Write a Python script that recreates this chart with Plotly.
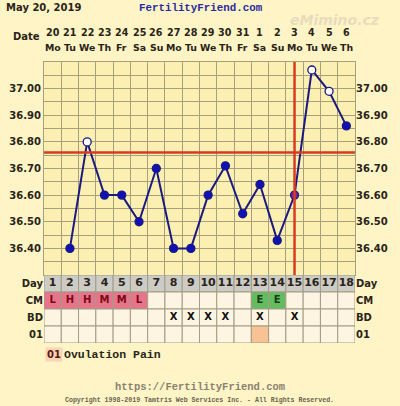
import plotly.graph_objects as go

W, H = 400, 406

# ---------------- data ----------------
days = list(range(1, 19))
dates = ["20", "21", "22", "23", "24", "25", "26", "27", "28", "29", "30", "31",
         "1", "2", "3", "4", "5", "6"]
dows = ["Mo", "Tu", "We", "Th", "Fr", "Sa", "Su", "Mo", "Tu", "We", "Th", "Fr",
        "Sa", "Su", "Mo", "Tu", "We", "Th"]
temps = [None, 36.40, 36.80, 36.60, 36.60, 36.50, 36.70, 36.40, 36.40, 36.60,
         36.71, 36.53, 36.64, 36.43, 36.60, 37.07, 36.99, 36.86]
open_points = [False, False, True, False, False, False, False, False, False, False,
               False, False, False, False, False, True, True, False]
coverline = 36.76
ovulation_day = 15
temp_ticks = [36.40, 36.50, 36.60, 36.70, 36.80, 36.90, 37.00]
cm = ["L", "H", "H", "M", "M", "L", "", "", "", "", "", "", "E", "E", "", "", "", ""]
bd = ["", "", "", "", "", "", "", "X", "X", "X", "X", "", "X", "", "X", "", "", ""]
opk = ["", "", "", "", "", "", "", "", "", "", "", "", "01", "", "", "", "", ""]
row_labels = ["Day", "CM", "BD", "01"]

# ---------------- style ----------------
BG = "#fef4c6"
PLOT_BG = "#fcefb2"
GRID = "#a8a07c"
CELL = "#fdf5e2"
DAYCELL = "#cdcbc6"
PINK = "#e8748c"
GREEN = "#63bd60"
PEACH = "#f8c294"
NAVY = "#1a1a80"
DOT = "#1010b4"
RED = "#d83a22"
TXT = "#2a2418"
SANS = "DejaVu Sans"
MONO = "Liberation Mono"


def py(px):
    return 1 - px / H


def px_x(px):
    return px / W


fig = go.Figure()

# temperature line
mcolors = []
for i, o in enumerate(open_points):
    if o:
        mcolors.append("white")
    elif days[i] == ovulation_day:
        mcolors.append("#7a2288")
    else:
        mcolors.append(DOT)
fig.add_trace(go.Scatter(
    x=days, y=temps, mode="lines+markers", connectgaps=True,
    line=dict(color=NAVY, width=2),
    marker=dict(size=8, color=mcolors, line=dict(color=NAVY, width=1.3)),
    xaxis="x", yaxis="y", hoverinfo="skip", showlegend=False))

# right-side ticks helper
fig.add_trace(go.Scatter(x=days, y=temps, mode="markers", marker=dict(opacity=0),
                         xaxis="x", yaxis="y3", hoverinfo="skip", showlegend=False))

# coverline + ovulation line
fig.add_trace(go.Scatter(x=[0.5, 18.5], y=[coverline, coverline], mode="lines",
                         line=dict(color=RED, width=2.5), xaxis="x", yaxis="y",
                         hoverinfo="skip", showlegend=False))
fig.add_trace(go.Scatter(x=[ovulation_day, ovulation_day], y=[36.30, 37.10], mode="lines",
                         line=dict(color=RED, width=2.5), xaxis="x", yaxis="y",
                         hoverinfo="skip", showlegend=False))

# ---------------- table ----------------
shapes = []
for i, d in enumerate(days):
    # rows: Day (3), CM (2), BD (1), 01 (0)
    fills = {
        3: DAYCELL,
        2: (GREEN if cm[i] == "E" else PINK) if cm[i] else CELL,
        1: CELL,
        0: PEACH if opk[i] else CELL,
    }
    for r, f in fills.items():
        shapes.append(dict(type="rect", xref="x2", yref="y2", x0=d - 0.5, x1=d + 0.5,
                           y0=r, y1=r + 1, fillcolor=f, layer="below",
                           line=dict(color="#a29c84", width=1)))

fig.add_trace(go.Scatter(x=days, y=[3.5] * 18, text=[str(d) for d in days], mode="text",
                         textfont=dict(family=SANS, size=11, color=TXT, weight="bold"),
                         xaxis="x2", yaxis="y2", hoverinfo="skip", showlegend=False))
cm_colors = ["#1e3a18" if c == "E" else "#7a0a14" for c in cm]
fig.add_trace(go.Scatter(x=days, y=[2.5] * 18, text=cm, mode="text",
                         textfont=dict(family=SANS, size=10, color=cm_colors, weight="bold"),
                         xaxis="x2", yaxis="y2", hoverinfo="skip", showlegend=False))
fig.add_trace(go.Scatter(x=days, y=[1.5] * 18, text=bd, mode="text",
                         textfont=dict(family=SANS, size=10, color="#111111", weight="bold"),
                         xaxis="x2", yaxis="y2", hoverinfo="skip", showlegend=False))
fig.add_trace(go.Scatter(x=days, y=[0.5] * 18, mode="markers", marker=dict(opacity=0),
                         xaxis="x2", yaxis="y4", hoverinfo="skip", showlegend=False))

# ---------------- header / footer annotations ----------------
ann = []
# watermark first (behind the dates)
ann.append(dict(x=px_x(335), y=py(20), xref="paper", yref="paper", text="eMimino.cz",
                showarrow=False, xanchor="center", yanchor="middle",
                font=dict(family=SANS, size=14, color="#e8dcbc", weight="bold", style="italic")))
for i, d in enumerate(days):
    ann.append(dict(x=d, y=py(32), xref="x", yref="paper", text=dates[i], showarrow=False,
                    font=dict(family=SANS, size=9.6, color=TXT, weight="bold"),
                    xanchor="center", yanchor="middle"))
    ann.append(dict(x=d, y=py(47), xref="x", yref="paper", text=dows[i], showarrow=False,
                    font=dict(family=SANS, size=9.4, color=TXT, weight="bold"),
                    xanchor="center", yanchor="middle"))
ann.append(dict(x=px_x(42), y=py(36), xref="paper", yref="paper", text="Date",
                showarrow=False, xanchor="right", yanchor="middle",
                font=dict(family=SANS, size=10, color=TXT, weight="bold")))
ann.append(dict(x=px_x(4), y=py(8), xref="paper", yref="paper", text="May 20, 2019",
                showarrow=False, xanchor="left", yanchor="middle",
                font=dict(family=SANS, size=10, color=TXT, weight="bold")))
ann.append(dict(x=px_x(201), y=py(8), xref="paper", yref="paper", text="FertilityFriend.com",
                showarrow=False, xanchor="center", yanchor="middle",
                font=dict(family=MONO, size=10.8, color="#2a2aa0", weight="bold")))
ann.append(dict(x=px_x(45), y=py(354), xref="paper", yref="paper", text="01",
                showarrow=False, xanchor="left", yanchor="middle", bgcolor="#f8d4b8",
                borderpad=1,
                font=dict(family=SANS, size=10, color="#5a1a0a", weight="bold")))
ann.append(dict(x=px_x(62), y=py(354), xref="paper", yref="paper", text="Ovulation Pain",
                showarrow=False, xanchor="left", yanchor="middle",
                font=dict(family=MONO, size=11.5, color=TXT, weight="bold")))
ann.append(dict(x=px_x(200), y=py(387), xref="paper", yref="paper",
                text="https://FertilityFriend.com", showarrow=False,
                xanchor="center", yanchor="middle",
                font=dict(family=MONO, size=10.5, color="#8a8270", weight="bold")))
ann.append(dict(x=px_x(199), y=py(400), xref="paper", yref="paper",
                text="Copyright 1998-2019 Tamtris Web Services Inc. - All Rights Reserved.",
                showarrow=False, xanchor="center", yanchor="middle",
                font=dict(family=MONO, size=6.6, color="#6a6250", weight="bold")))

tick_text = ["%.2f" % v for v in temp_ticks]
tickfont = dict(family=SANS, size=10, color=TXT, weight="bold")
x_dom = [px_x(44), px_x(355)]

fig.update_layout(
    width=W, height=H, margin=dict(l=0, r=0, t=0, b=0),
    paper_bgcolor=BG, plot_bgcolor=PLOT_BG, showlegend=False,
    shapes=shapes, annotations=ann,
    xaxis=dict(domain=x_dom, anchor="y", range=[0.5, 18.5],
               tickvals=[d - 0.5 for d in days] + [18.5], showticklabels=False, ticks="",
               showgrid=True, gridcolor=GRID, gridwidth=1, zeroline=False,
               showline=True, mirror=True, linecolor=GRID, linewidth=1),
    yaxis=dict(domain=[py(275), py(62)], anchor="x", range=[36.30, 37.10],
               tickvals=temp_ticks, ticktext=tick_text, tickfont=tickfont, ticks="",
               showgrid=True, gridcolor=GRID, gridwidth=1, zeroline=False,
               minor=dict(dtick=0.05, tick0=36.30, showgrid=True, gridcolor=GRID, gridwidth=1),
               showline=True, mirror=True, linecolor=GRID, linewidth=1),
    yaxis3=dict(overlaying="y", side="right", anchor="x", range=[36.30, 37.10],
                tickvals=temp_ticks, ticktext=tick_text, tickfont=tickfont, ticks="",
                showgrid=False, zeroline=False, showline=False),
    xaxis2=dict(domain=x_dom, anchor="y2", range=[0.5, 18.5], matches="x",
                showticklabels=False, showgrid=False, zeroline=False, ticks=""),
    yaxis2=dict(domain=[py(343), py(275)], anchor="x2", range=[0, 4],
                tickvals=[3.5, 2.5, 1.5, 0.5], ticktext=row_labels, tickfont=tickfont,
                ticks="", showgrid=False, zeroline=False),
    yaxis4=dict(overlaying="y2", side="right", anchor="x2", range=[0, 4],
                tickvals=[3.5, 2.5, 1.5, 0.5], ticktext=row_labels, tickfont=tickfont,
                ticks="", showgrid=False, zeroline=False),
)

fig.write_html("out.html", config={"displayModeBar": False},
               post_script="document.body.style.margin='0';document.body.style.background='#fef4c6';")
